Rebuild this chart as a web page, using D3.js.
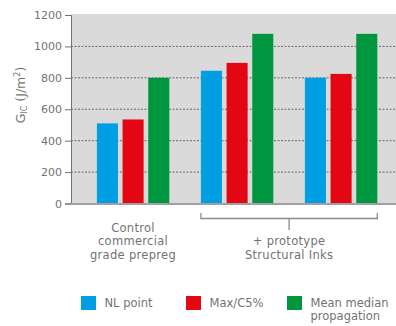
<!DOCTYPE html>
<html><head><meta charset="utf-8">
<script src="https://cdn.jsdelivr.net/npm/d3@7"></script>
<style>body{margin:0;background:#fff}svg{display:block}text{font-family:"DejaVu Sans",sans-serif;fill:#737373}</style>
</head><body>
<svg id="c" width="396" height="326"></svg>
<script>
const groups = ["g1","g2","g3"];
const groupLabels = [["Control","commercial","grade prepreg"], [], []];
const bracketLabel = ["+ prototype","Structural Inks"];
const seriesNames = ["NL point","Max/C5%","Mean median propagation"];
const nlPoint = [510, 845, 800];
const maxC5 = [535, 895, 825];
const meanMedian = [800, 1080, 1080];
const yTicks = [0,200,400,600,800,1000,1200];
const colors = ["#009fe3","#e30613","#009640"];
const series = [nlPoint, maxC5, meanMedian];

const svg = d3.select("#c");
const pL = 71, pR = 396, pT = 14, pB = 204;
const y = d3.scaleLinear().domain([0,1200]).range([203.5,15]);
const x0 = d3.scaleBand().domain(groups).range([81,393]).padding(0);
const x1 = d3.scaleBand().domain(d3.range(3)).range([15.9,88.3]).paddingInner(0.18).paddingOuter(0);

svg.append("rect").attr("x",pL).attr("y",pT).attr("width",pR-pL).attr("height",pB-pT).attr("fill","#dadada");

// grid
svg.append("g").selectAll("line").data(yTicks.filter(t=>t>0 && t<1200)).join("line")
  .attr("x1",pL).attr("x2",pR).attr("y1",d=>y(d)).attr("y2",d=>y(d))
  .attr("stroke","#6a6a6a").attr("stroke-width",1).attr("stroke-dasharray","2,1.5");

// bars
groups.forEach((g,gi)=>{
  series.forEach((s,si)=>{
    svg.append("rect").attr("x",x0(g)+x1(si)).attr("width",x1.bandwidth())
      .attr("y",y(s[gi])).attr("height",y(0)-y(s[gi])).attr("fill",colors[si]);
  });
});

// y axis
const ya = d3.axisLeft(y).tickValues(yTicks).tickSize(6).tickPadding(3).tickFormat(d3.format("d"));
const yg = svg.append("g").attr("transform",`translate(${pL},0)`).call(ya);
yg.select(".domain").attr("stroke","#707070");
yg.selectAll(".tick line").attr("stroke","#707070");
yg.selectAll(".tick text").attr("font-size",11).attr("fill","#737373").style("font-family","DejaVu Sans");

// x baseline
svg.append("line").attr("x1",pL).attr("x2",pR).attr("y1",y(0)+0.5).attr("y2",y(0)+0.5).attr("stroke","#a0a0a0").attr("stroke-width",2);

// y label
const yl = svg.append("text").attr("transform","translate(25,95) rotate(-90)").attr("text-anchor","middle").attr("font-size",12.5);
yl.append("tspan").text("G");
yl.append("tspan").text("IC").attr("font-size",8).attr("dy",2);
yl.append("tspan").text(" (J/m").attr("dy",-2);
yl.append("tspan").text("2").attr("font-size",8).attr("dy",-5);
yl.append("tspan").text(")").attr("dy",5);

// category label 1
const c1 = x0("g1")+x0.bandwidth()/2;
svg.append("text").attr("text-anchor","middle").attr("font-size",11.5).attr("letter-spacing",0.3)
  .selectAll("tspan").data(groupLabels[0]).join("tspan")
  .attr("x",c1).attr("y",(d,i)=>231.5+i*13.5).text(d=>d);

// bracket
const bx1 = x0("g2")+x1(0), bx2 = x0("g3")+x1(2)+x1.bandwidth();
const bm = (bx1+bx2)/2;
svg.append("path").attr("d",`M${bx1},213 V218.5 H${bx2} V213 M${bm},218.5 V230`).attr("fill","none").attr("stroke","#8a8a8a").attr("stroke-width",1.3);
svg.append("text").attr("text-anchor","middle").attr("font-size",11.5).attr("letter-spacing",0.3)
  .selectAll("tspan").data(bracketLabel).join("tspan")
  .attr("x",bm).attr("y",(d,i)=>245+i*13.5).text(d=>d);

// legend
const legX = [81,186,287];
const legLines = [["NL point"],["Max/C5%"],["Mean median","propagation"]];
legX.forEach((lx,i)=>{
  svg.append("rect").attr("x",lx).attr("y",296).attr("width",15).attr("height",14).attr("fill",colors[i]);
  svg.append("text").attr("font-size",11.5).selectAll("tspan").data(legLines[i]).join("tspan")
    .attr("x",lx+23.5).attr("y",(d,j)=>307+j*12.5).text(d=>d);
});
</script>
</body></html>
